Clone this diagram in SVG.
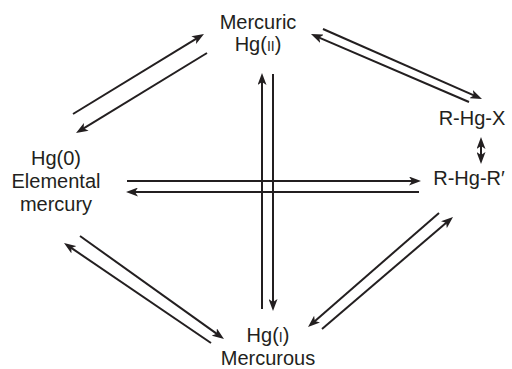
<svg xmlns="http://www.w3.org/2000/svg" width="512" height="369" viewBox="0 0 512 369">
<style>
.t{font-family:"Liberation Sans",Arial,Helvetica,sans-serif;font-size:20px;fill:#231f20;text-anchor:middle}
.sc{font-size:14px}
.c line{stroke:#231f20;stroke-width:2;fill:none}
.a{marker-end:url(#ah)}
.b{marker-start:url(#ah);marker-end:url(#ah)}
</style>
<defs>
<marker id="ah" viewBox="0 0 12 9" refX="5" refY="4.5" markerWidth="12" markerHeight="9" markerUnits="userSpaceOnUse" orient="auto-start-reverse">
<path d="M0,0 L12,4.5 L0,9 L3,4.5 z" fill="#231f20"/>
</marker>
</defs>
<rect width="512" height="369" fill="#fff"/>
<g id="mercuric"><text class="t" x="258" y="29">Mercuric</text><text class="t" x="258" y="51">Hg(<tspan class="sc">II</tspan>)</text></g>
<g id="elemental"><text class="t" x="56" y="165">Hg(0)</text><text class="t" x="56" y="188">Elemental</text><text class="t" x="56" y="211">mercury</text></g>
<g id="rhgx"><text class="t" x="472" y="125">R-Hg-X</text></g>
<g id="rhgr"><text class="t" x="469" y="185">R-Hg-R′</text></g>
<g id="mercurous"><text class="t" x="268" y="342">Hg(<tspan class="sc">I</tspan>)</text><text class="t" x="268" y="365">Mercurous</text></g>
<g id="connectors" class="c">
<line class="a" x1="73" y1="114" x2="198" y2="37.6"/>
<line class="a" x1="207" y1="53" x2="82" y2="129.4"/>
<line class="a" x1="323" y1="29" x2="475.6" y2="96.2"/>
<line class="a" x1="469" y1="102" x2="317.4" y2="36.8"/>
<line class="b" x1="481" y1="144" x2="481" y2="157"/>
<line class="a" x1="127" y1="181" x2="414" y2="181"/>
<line class="a" x1="419" y1="192" x2="133" y2="192"/>
<line class="a" x1="262" y1="309" x2="262" y2="80"/>
<line class="a" x1="273" y1="74" x2="273" y2="304"/>
<line class="a" x1="80" y1="236" x2="218.3" y2="334.9"/>
<line class="a" x1="211" y1="343" x2="69.8" y2="246.9"/>
<line class="a" x1="439" y1="213" x2="313.3" y2="322.4"/>
<line class="a" x1="322" y1="329" x2="447.7" y2="221.5"/>
</g>
</svg>
